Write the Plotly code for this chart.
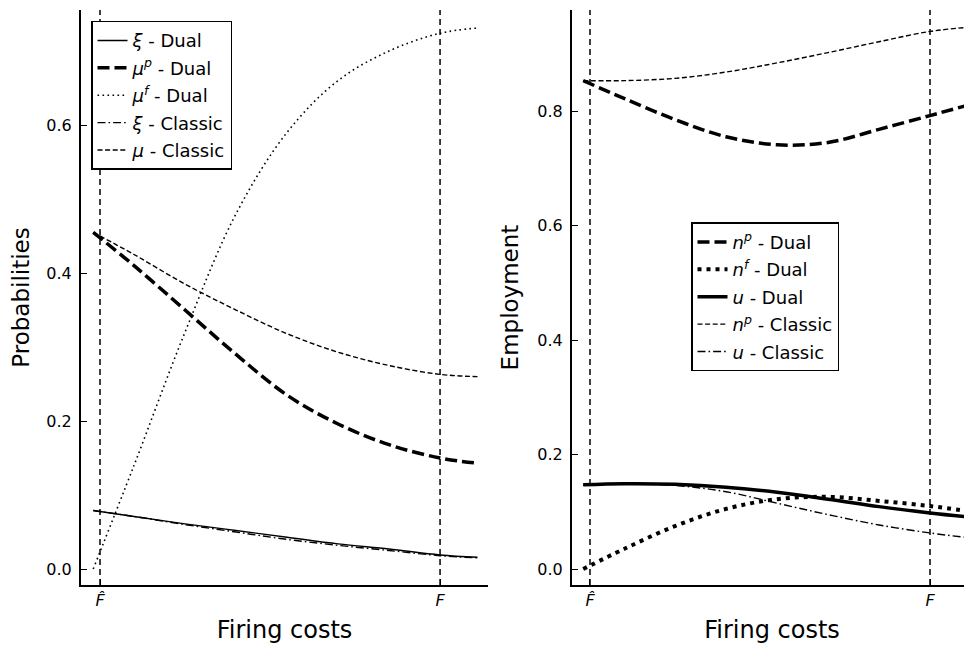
import plotly.graph_objects as go
from plotly.subplots import make_subplots

# ---------------- data ----------------
# firing cost grid (F_hat = 0, F = 1)
x_cost = [-0.02, 0.1, 0.25, 0.4, 0.55, 0.7, 0.85, 1.0, 1.11]
xtick_vals = [0.0, 1.0]
xtick_text = ["<i>F̂</i>", "<i>F</i>"]

# left panel: probabilities
xi_dual = [0.079, 0.071, 0.061, 0.052, 0.043, 0.034, 0.027, 0.019, 0.016]
mup_dual = [0.455, 0.41, 0.35, 0.29, 0.235, 0.196, 0.168, 0.15, 0.143]
muf_dual = [0.0, 0.14, 0.32, 0.48, 0.59, 0.66, 0.70, 0.724, 0.731]
xi_classic = [0.079, 0.071, 0.060, 0.050, 0.040, 0.032, 0.025, 0.018, 0.015]
mu_classic = [0.455, 0.425, 0.385, 0.35, 0.318, 0.293, 0.275, 0.263, 0.26]

# right panel: employment
np_dual = [0.853, 0.822, 0.785, 0.755, 0.741, 0.745, 0.768, 0.792, 0.81]
nf_dual = [0.0, 0.035, 0.075, 0.105, 0.122, 0.126, 0.119, 0.11, 0.101]
u_dual = [0.147, 0.149, 0.148, 0.143, 0.134, 0.122, 0.109, 0.098, 0.091]
np_classic = [0.853, 0.853, 0.857, 0.868, 0.884, 0.902, 0.921, 0.939, 0.946]
u_classic = [0.147, 0.149, 0.146, 0.135, 0.115, 0.095, 0.077, 0.063, 0.055]

ytick_left = [0.0, 0.2, 0.4, 0.6]
ytick_right = [0.0, 0.2, 0.4, 0.6, 0.8]

# ---------------- styles ----------------
THIN = dict(color="black", width=1.4)
THICK = dict(color="black", width=3.5)
S_SOLID = dict(THIN, dash="solid")
S_SOLID_THICK = dict(THICK, dash="solid")
S_DASH_THICK = dict(THICK, dash="12px,5px")
S_DOT = dict(color="black", width=1.6, dash="1.6px,3.4px")
S_DOT_THICK = dict(color="black", width=4, dash="4px,5px")
S_DASHDOT = dict(THIN, dash="8px,3px,1.6px,3px")
S_DASH = dict(THIN, dash="5px,2.6px")

# page has an 8px body margin: figure is drawn at (8, 8) in the window
W, H = 964, 642
OFF = 8

fig = make_subplots(rows=1, cols=2)

def add(x, y, name, line, col, legend):
    fig.add_trace(
        go.Scatter(x=x, y=y, mode="lines", name=name, line=dict(line, shape="spline"),
                   legend=legend, legendgroup=name),
        row=1, col=col,
    )

add(x_cost, xi_dual, "<i>ξ</i> - Dual", S_SOLID, 1, "legend")
add(x_cost, mup_dual, "<i>μ</i><sup><i>p</i></sup> - Dual", S_DASH_THICK, 1, "legend")
add(x_cost, muf_dual, "<i>μ</i><sup><i>f</i></sup> - Dual", S_DOT, 1, "legend")
add(x_cost, xi_classic, "<i>ξ</i> - Classic", S_DASHDOT, 1, "legend")
add(x_cost, mu_classic, "<i>μ</i> - Classic", S_DASH, 1, "legend")

add(x_cost, np_dual, "<i>n</i><sup><i>p</i></sup> - Dual", S_DASH_THICK, 2, "legend2")
add(x_cost, nf_dual, "<i>n</i><sup><i>f</i></sup> - Dual", S_DOT_THICK, 2, "legend2")
add(x_cost, u_dual, "<i>u</i> - Dual", S_SOLID_THICK, 2, "legend2")
add(x_cost, np_classic, "<i>n</i><sup><i>p</i></sup> - Classic", S_DASH, 2, "legend2")
add(x_cost, u_classic, "<i>u</i> - Classic", S_DASHDOT, 2, "legend2")

# vertical reference lines at F_hat and F
for xr, yr in [("x", "y domain"), ("x2", "y2 domain")]:
    for xv in xtick_vals:
        fig.add_shape(type="line", xref=xr, yref=yr, x0=xv, x1=xv, y0=0, y1=1,
                      line=dict(color="black", width=1.5, dash="6px,4px"))

axis_common = dict(
    showline=True, linecolor="black", linewidth=2, mirror=False,
    ticks="inside", ticklen=6, tickwidth=1.2, tickcolor="black",
    showgrid=False, zeroline=False,
    tickfont=dict(size=16, color="black"),
)

fig.update_xaxes(axis_common, tickvals=xtick_vals, ticktext=xtick_text,
                 title=dict(text="Firing costs", font=dict(size=24, color="black"), standoff=12))
fig.update_xaxes(domain=[(81 - OFF) / W, (488 - OFF) / W], range=[-0.0559, 1.141], row=1, col=1)
fig.update_xaxes(domain=[(572 - OFF) / W, 1.0], range=[-0.0529, 1.1235], row=1, col=2)

fig.update_yaxes(axis_common, tickformat=".1f", ticklabelstandoff=4)
fig.update_yaxes(tickvals=ytick_left, range=[-0.0216, 0.7554], row=1, col=1,
                 title=dict(text="Probabilities", font=dict(size=23, color="black"), standoff=12))
fig.update_yaxes(tickvals=ytick_right, range=[-0.0279, 0.9764], row=1, col=2,
                 title=dict(text="Employment", font=dict(size=23, color="black"), standoff=12))

legend_common = dict(
    bgcolor="white", bordercolor="black", borderwidth=1.5,
    font=dict(size=18, color="black"), traceorder="grouped", tracegroupgap=1,
    xanchor="left", yanchor="top",
)
fig.update_layout(
    width=W, height=H,
    margin=dict(l=0, r=0, t=10 - OFF, b=650 - 585),
    paper_bgcolor="white", plot_bgcolor="white",
    font=dict(family="DejaVu Sans", color="black"),
    legend=dict(legend_common, x=(91 - OFF) / W, y=1 - (20 - OFF) / H),
    legend2=dict(legend_common, x=(691 - OFF) / W, y=1 - (245 - OFF) / H),
    showlegend=True,
)

fig.write_html("out.html")
